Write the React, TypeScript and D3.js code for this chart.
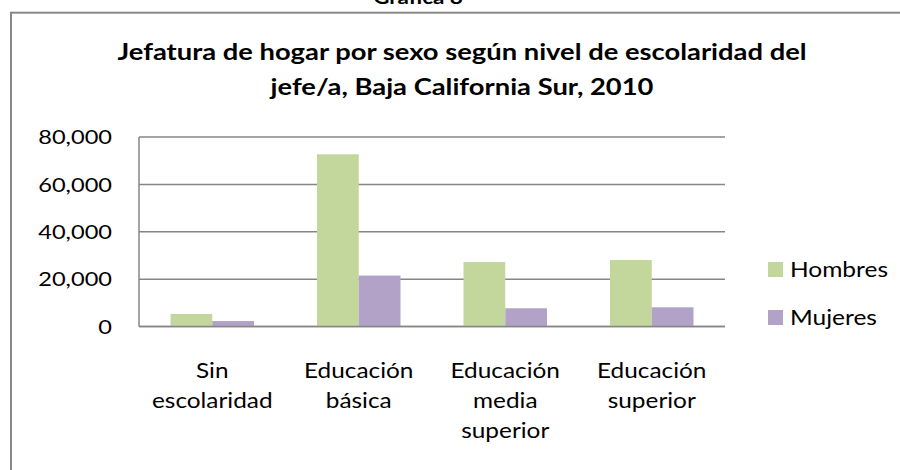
import React from "react";
import * as d3 from "d3";

const categories: string[][] = [
  ["Sin", "escolaridad"],
  ["Educación", "básica"],
  ["Educación", "media", "superior"],
  ["Educación", "superior"],
];
const categoryKeys = ["sin", "basica", "media", "superior"];
const hombres = [5300, 72700, 27200, 28100];
const mujeres = [2300, 21500, 7700, 8100];
const seriesNames = ["Hombres", "Mujeres"];
const seriesColors = ["#C3D69B", "#B3A2C7"];
const yTicks = [0, 20000, 40000, 60000, 80000];
const titleLines = [
  "Jefatura de hogar por sexo según nivel de escolaridad del",
  "jefe/a, Baja California Sur, 2010",
];

const W = 900;
const H = 470;
const FONT = "Lato, 'Open Sans', sans-serif";
const SX = 1.18;

type STextProps = {
  x: number;
  y: number;
  anchor?: "start" | "middle" | "end";
  size: number;
  bold?: boolean;
  sx?: number;
  children: React.ReactNode;
};

function SText({ x, y, anchor = "start", size, bold, sx = SX, children }: STextProps) {
  return (
    <text
      transform={`translate(${x},${y}) scale(${sx},1)`}
      textAnchor={anchor}
      fontFamily={FONT}
      fontWeight={bold ? "bold" : "normal"}
      fontSize={size}
      fill="#000"
    >
      {children}
    </text>
  );
}

export default function App() {
  const plot = { left: 139, right: 725, top: 137, bottom: 326.5 };
  const x = d3
    .scaleBand<string>()
    .domain(categoryKeys)
    .range([plot.left, plot.right])
    .paddingInner(0.43)
    .paddingOuter(0.215);
  const xs = d3.scaleBand<string>().domain(seriesNames).range([0, x.bandwidth()]);
  const y = d3.scaleLinear().domain([0, 80000]).range([plot.bottom, plot.top]);
  const fmt = d3.format(",");
  const band = (plot.right - plot.left) / categoryKeys.length;
  const series = [hombres, mujeres];

  return (
    <div style={{ position: "fixed", left: 0, top: 0 }}>
      <svg width={W} height={H} style={{ display: "block", background: "#fff" }}>
        <SText x={418} y={4} anchor="middle" size={19} bold>
          Gráfica 8
        </SText>
        <rect x={11} y={12.7} width={900} height={470} fill="#fff" stroke="#888888" strokeWidth={2} />
        {titleLines.map((t, i) => (
          <SText key={i} x={462} y={60 + i * 35} anchor="middle" size={23} bold sx={1.19}>
            {t}
          </SText>
        ))}
        {yTicks.map((t) => (
          <g key={t}>
            <line x1={plot.left} x2={plot.right} y1={y(t)} y2={y(t)} stroke="#868686" strokeWidth={1.5} />
            <SText x={112} y={y(t) + 7.2} anchor="end" size={20}>
              {fmt(t)}
            </SText>
          </g>
        ))}
        <line x1={plot.left} x2={plot.left} y1={plot.top} y2={plot.bottom} stroke="#868686" strokeWidth={1.5} />
        {categoryKeys.map((k, i) =>
          series.map((s, j) => (
            <rect
              key={k + j}
              x={(x(k) as number) + (xs(seriesNames[j]) as number)}
              y={y(s[i])}
              width={xs.bandwidth()}
              height={plot.bottom - y(s[i])}
              fill={seriesColors[j]}
            />
          ))
        )}
        <line x1={plot.left} x2={plot.right} y1={plot.bottom} y2={plot.bottom} stroke="#868686" strokeWidth={1.5} />
        {categoryKeys.map((k, i) => (
          <g key={k}>
            {categories[i].map((line, li) => (
              <SText key={li} x={plot.left + band * (i + 0.5)} y={378 + li * 30} anchor="middle" size={21} sx={1.16}>
                {line}
              </SText>
            ))}
          </g>
        ))}
        {seriesNames.map((n, j) => (
          <g key={n}>
            <rect x={768} y={262 + j * 48} width={15} height={15} fill={seriesColors[j]} />
            <SText x={790} y={277 + j * 48} size={21.5} sx={1.14}>
              {n}
            </SText>
          </g>
        ))}
      </svg>
    </div>
  );
}
